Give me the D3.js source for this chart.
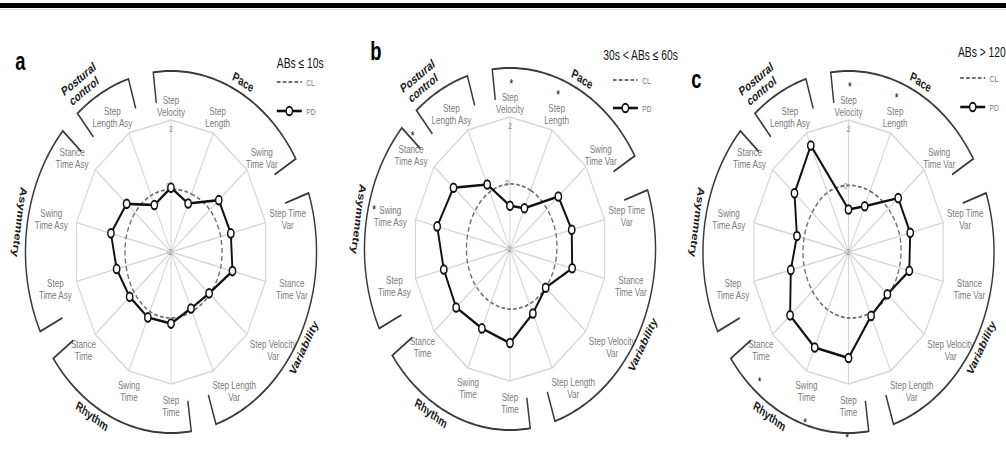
<!DOCTYPE html>
<html><head><meta charset="utf-8">
<script src="https://cdn.jsdelivr.net/npm/d3@7"></script>
<style>
html,body{margin:0;padding:0;background:#fff;}
svg{display:block;}
text{font-family:"Liberation Sans",Arial,sans-serif;}
</style>
</head><body>
<svg id="chart" width="1006" height="452"></svg>
<script>
// ---------- data ----------
const axisLabels = ["Step\nVelocity","Step\nLength","Swing\nTime Var","Step Time\nVar","Stance\nTime Var",
  "Step Velocity\nVar","Step Length\nVar","Step\nTime","Swing\nTime","Stance\nTime",
  "Step\nTime Asy","Swing\nTime Asy","Stance\nTime Asy","Step\nLength Asy"];
const domainNames = ["Pace","Variability","Rhythm","Asymmetry","Postural\ncontrol"];
const domainFirst = [0,3,7,10,13];
const domainLast  = [2,6,9,12,13];
const panelLetters = ["a","b","c"];
const panelTitles = ["ABs \u2264 10s","30s < ABs \u2264 60s","ABs > 120s"];
const seriesNames = ["CL","PD"];
const scaleTicks = [-2, 0, 2];

const clA = [-0.1,-0.05,0.05,0.1,0.1,0.05,0,0,0,-0.05,-0.1,-0.1,-0.1,-0.1];
const pdA = [-0.05,-0.37,0.52,0.53,0.6,0.01,-0.1,0.17,0.2,0.18,0.3,0.54,0.34,-0.42];
const clB = [-0.03,-0.03,-0.05,-0.05,-0.08,-0.12,-0.15,-0.18,-0.2,-0.2,-0.2,-0.2,-0.15,-0.08];
const pdB = [-0.69,-0.63,0.55,0.61,0.63,-0.12,0.17,0.85,0.67,0.84,0.8,1.08,0.98,0.17];
const clC = [0.02,0.05,0.1,0.17,0.15,0.1,0.05,0,-0.05,-0.1,-0.12,-0.12,-0.08,0];
const pdC = [-0.71,-0.46,0.62,0.61,0.57,0.05,0.15,1.21,1.21,1.08,0.44,0.18,0.85,1.58];
const sigA = [];
const sigB = [0,1,11,12];
const sigC = [0,1,7,8,9];

// ---------- layout ----------
const panels = [
  {cx:171,   cy:252, cl:clA, pd:pdA, sig:sigA, letter:[-212,-182], title:[144,-184], lx:144, cly:-170, pdy:-141},
  {cx:510,   cy:249, cl:clB, pd:pdB, sig:sigB, letter:[-190,-189], title:[127,-189], lx:140, cly:-169, pdy:-141},
  {cx:848.5, cy:252, cl:clC, pd:pdC, sig:sigC, letter:[-214,-164], title:[149,-195], lx:152, cly:-174, pdy:-145}
];
const SX = 0.735;      // horizontal squish of the whole figure
const R = 132;         // radar radius (inner coords)
const ARX = 198, ARY = 181; // domain arc ellipse
const arcStartDeg = [-7, 71, 172, 244, 320];
const arcEndDeg   = [59, 162, 234, 312, 343];
const arcLabelDeg = [28, 120, 211, 279, 326];
const N = axisLabels.length;

const svg = d3.select("#chart");
svg.append("rect").attr("x",0).attr("y",0).attr("width",1006).attr("height",452).attr("fill","#fff");
svg.append("rect").attr("x",0).attr("y",3).attr("width",1006).attr("height",5).attr("fill","#000");
svg.append("line").attr("x1",0).attr("x2",1006).attr("y1",9.5).attr("y2",9.5).attr("stroke","#dfe6ec").attr("stroke-width",1);

const angle = d3.scaleLinear().domain([0, N]).range([0, 2*Math.PI]);
const rScale = d3.scaleLinear().domain([-2, 2]).range([0, R]);
const deg = Math.PI/180;

function multiText(g, str, x, y, lh, attrs){
  const lines = str.split("\n");
  const t = g.append("text").attr("x",x).attr("y",y).attr("text-anchor","middle");
  Object.entries(attrs).forEach(([k,v])=>t.attr(k,v));
  lines.forEach((ln,i)=>{
    t.append("tspan").attr("x",x).attr("dy", i===0 ? (-(lines.length-1)/2*lh + 4)+"px" : lh+"px").text(ln);
  });
  return t;
}

panels.forEach((p, pi) => {
  const g = svg.append("g").attr("transform", `translate(${p.cx},${p.cy}) scale(${SX},1)`);

  const idx = d3.range(N);
  g.selectAll("line.spoke").data(idx).join("line")
    .attr("x1",0).attr("y1",0)
    .attr("x2", i => d3.pointRadial(angle(i), R)[0])
    .attr("y2", i => d3.pointRadial(angle(i), R)[1])
    .attr("stroke","#d6d6d6").attr("stroke-width",1.5);
  const gridLine = d3.lineRadial().angle(i => angle(i)).radius(() => rScale(2)).curve(d3.curveLinearClosed);
  g.append("path").attr("d", gridLine(idx)).attr("fill","none").attr("stroke","#d6d6d6").attr("stroke-width",1.6);

  g.selectAll("text.tick").data(scaleTicks).join("text")
    .attr("x", d => d === -2 ? -2 : (d === 0 ? -4 : 0))
    .attr("y", d => d === 2 ? -R + 12 : (d === 0 ? -rScale(0) + 3 : 3))
    .attr("text-anchor","middle").attr("font-size",9).attr("fill","#8a8a8a")
    .text(d => d);

  const radar = d3.lineRadial().angle((d,i) => angle(i)).radius(d => rScale(d));
  g.append("path").attr("d", radar.curve(d3.curveCatmullRomClosed)(p.cl))
    .attr("fill","none").attr("stroke","#6e6e6e").attr("stroke-width",1.8).attr("stroke-dasharray","5,3");
  g.append("path").attr("d", radar.curve(d3.curveLinearClosed)(p.pd))
    .attr("fill","none").attr("stroke","#111").attr("stroke-width",2.6);
  g.selectAll("circle.pd").data(p.pd).join("circle")
    .attr("cx",(d,i)=>d3.pointRadial(angle(i), rScale(d))[0])
    .attr("cy",(d,i)=>d3.pointRadial(angle(i), rScale(d))[1])
    .attr("r",4.3).attr("fill","#fff").attr("stroke","#111").attr("stroke-width",2);

  idx.forEach(i => {
    const a = angle(i);
    const s = Math.sin(a), c = Math.cos(a);
    let x = 165 * s, y = -150 * c + (c < 0 ? 4 : 0);
    if (Math.abs(s) > 0.1) x += (c < 0 ? -16*c : -9*c);
    if (i === 0) y = -146;
    multiText(g, axisLabels[i], x, y, 12, {"font-size":11, "fill":"#7a7a7a"});
    if (p.sig.includes(i)) {
      let ax, ay;
      if (c > 0.5) { ax = x + 2; ay = y - 21; }
      else if (c < -0.5) { ax = x - 2; ay = y + 30; }
      else { ax = x + (s < 0 ? -22 : 22); ay = y - 8; }
      g.append("text").attr("x",ax).attr("y",ay+6).attr("text-anchor","middle")
        .attr("font-size",13).attr("fill","#000").text("*");
    }
  });

  domainNames.forEach((name, di) => {
    const t0 = arcStartDeg[di]*deg, t1 = arcEndDeg[di]*deg;
    const ts = d3.range(t0, t1, 1*deg).concat([t1]);
    const k = 0.83;
    const pts = [[k*ARX*Math.sin(t0), -k*ARY*Math.cos(t0)]]
      .concat(ts.map(t => [ARX*Math.sin(t), -ARY*Math.cos(t)]))
      .concat([[k*ARX*Math.sin(t1), -k*ARY*Math.cos(t1)]]);
    g.append("path").attr("d", d3.line()(pts)).attr("fill","none")
      .attr("stroke","#3a3a3a").attr("stroke-width",2);

    const tm = arcLabelDeg[di]*deg;
    const off = name.includes("\n") ? 20 : 11;
    const lx = (ARX+off)*Math.sin(tm), ly = -(ARY+off)*Math.cos(tm);
    let rot = Math.atan2(ARY*Math.sin(tm), ARX*Math.cos(tm)) / deg;
    if (Math.cos(tm) < 0.2) rot += 180;
    if (rot > 180) rot -= 360;
    const tg = g.append("g").attr("transform", `translate(${lx},${ly}) rotate(${rot})`);
    multiText(tg, name, 0, 0, 14, {"font-size":13, "font-weight":"bold", "fill":"#1a1a1a"});
  });

  g.append("text").attr("x",p.letter[0]).attr("y",p.letter[1])
    .attr("font-size",25).attr("font-weight","bold").attr("fill","#000").text(panelLetters[pi]);

  g.append("text").attr("x",p.title[0]).attr("y",p.title[1]).attr("font-size",14).attr("fill","#111")
    .text(panelTitles[pi]);
  g.append("line").attr("x1",p.lx).attr("x2",p.lx+34).attr("y1",p.cly).attr("y2",p.cly)
    .attr("stroke","#6e6e6e").attr("stroke-width",1.8).attr("stroke-dasharray","5,3");
  g.append("text").attr("x",p.lx+40).attr("y",p.cly+3.5).attr("font-size",9).attr("fill","#777").text(seriesNames[0]);
  g.append("line").attr("x1",p.lx).attr("x2",p.lx+34).attr("y1",p.pdy).attr("y2",p.pdy)
    .attr("stroke","#111").attr("stroke-width",2.6);
  g.append("circle").attr("cx",p.lx+17).attr("cy",p.pdy).attr("r",4.3)
    .attr("fill","#fff").attr("stroke","#111").attr("stroke-width",2);
  g.append("text").attr("x",p.lx+40).attr("y",p.pdy+3.5).attr("font-size",9).attr("fill","#777").text(seriesNames[1]);
});
</script>
</body></html>
